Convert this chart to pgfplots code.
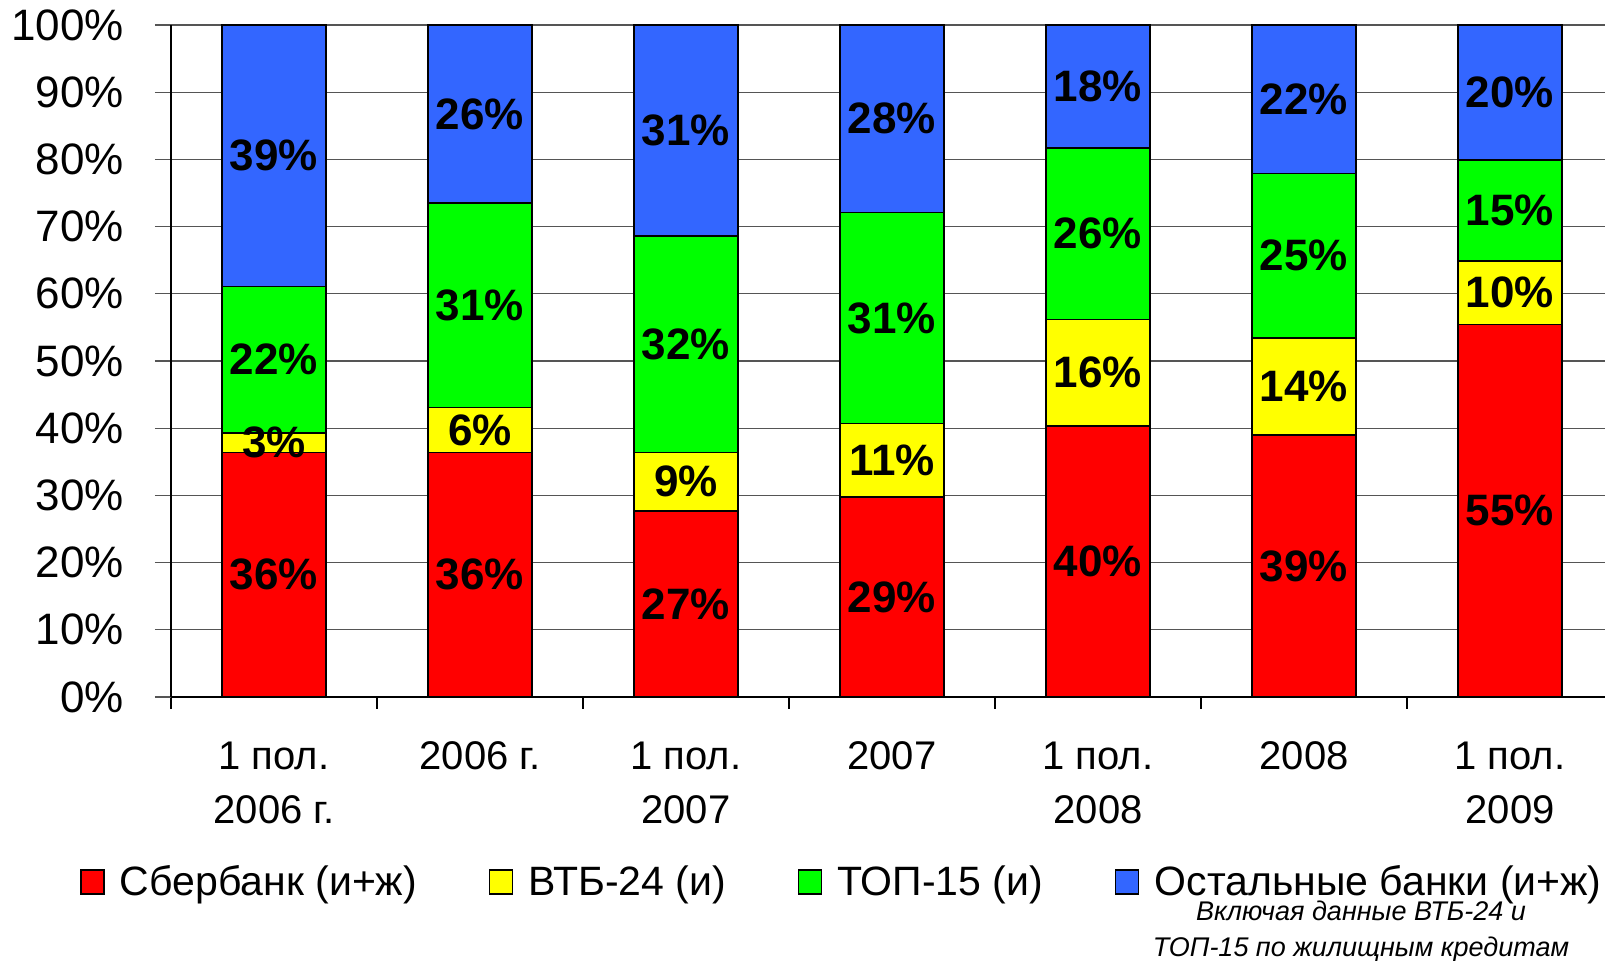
\documentclass[border=0pt]{standalone}
\usepackage{pgfplots}
\usepackage{pgfplotstable}
\pgfplotsset{compat=1.18}
\usepackage{fontspec}
\setmainfont{Liberation Sans}
\definecolor{cRed}{HTML}{FF0000}
\definecolor{cYel}{HTML}{FFFF00}
\definecolor{cGrn}{HTML}{00FF00}
\definecolor{cBlu}{HTML}{3366FF}
\definecolor{gridc}{HTML}{555555}
\pgfplotstableread{
x red yellow green blue
0 36.4 2.9 21.8 38.9
1 36.4 6.7 30.4 26.5
2 27.7 8.7 32.2 31.4
3 29.8 10.9 31.4 27.9
4 40.3 15.9 25.5 18.3
5 39.0 14.4 24.5 22.1
6 55.4 9.5 15.0 20.1
}\shares
\pgfplotstableread{
x y label
0 18.2 36\%
0 37.85 3\%
0 50.2 22\%
0 80.55 39\%
1 18.2 36\%
1 39.75 6\%
1 58.3 31\%
1 86.75 26\%
2 13.85 27\%
2 32.05 9\%
2 52.5 32\%
2 84.3 31\%
3 14.9 29\%
3 35.25 11\%
3 56.4 31\%
3 86.05 28\%
4 20.15 40\%
4 48.25 16\%
4 68.95 26\%
4 90.85 18\%
5 19.5 39\%
5 46.2 14\%
5 65.65 25\%
5 88.95 22\%
6 27.7 55\%
6 60.15 10\%
6 72.4 15\%
6 89.95 20\%
}\labels
\pgfplotsset{
  legsq/.style={legend image code/.code={\path[draw=none,fill=none] (0pt,0pt) -- (17.5pt,0pt);\draw[##1,draw=black,line width=0.6pt] (0pt,-6pt) rectangle (11.5pt,6pt);}},
}
\begin{document}
\begin{tikzpicture}
\path[use as bounding box] (0,0) rectangle (802.5pt,480.5pt);
\clip (0,0) rectangle (802.5pt,480.5pt);
\begin{axis}[
  at={(85.5pt,132pt)}, anchor=south west,
  scale only axis, width=721pt, height=336pt,
  ybar stacked, bar width=52pt,
  xmin=-0.5, xmax=6.5, ymin=0, ymax=100,
  axis x line*=bottom, axis y line*=left,
  axis line style={black, line width=0.7pt},
  ymajorgrids, grid style={gridc, line width=0.6pt},
  ytick={0,10,...,100},
  yticklabels={0\%,10\%,20\%,30\%,40\%,50\%,60\%,70\%,80\%,90\%,100\%},
  yticklabel style={font=\fontsize{22}{26}\selectfont, xshift=-12pt},
  xtick={0,...,6},
  xticklabels={{1 пол.\\2006 г.},{2006 г.},{1 пол.\\2007},{2007},{1 пол.\\2008},{2008},{1 пол.\\2009}},
  xticklabel style={align=center, font=\fontsize{20}{27}\selectfont, yshift=-11pt},
  minor xtick={-0.5,0.5,...,6.5},
  tick align=outside,
  major tick length=8pt, minor tick length=6pt,
  major x tick style={draw=none},
  minor x tick style={black, line width=0.6pt},
  major y tick style={gridc, line width=0.6pt},
  clip=false,
  legend columns=4,
  legend style={at={(-0.0673,-0.2753)}, anchor=west, draw=none, fill=none,
    font=\fontsize{20.5}{24}\selectfont,
    /tikz/every even column/.append style={column sep=34pt}},
  legend cell align=left,
]
\addplot[fill=cRed, draw=black, line width=0.8pt, legsq] table[x=x,y=red]{\shares};
\addlegendentry{Сбербанк (и+ж)}
\addplot[fill=cYel, draw=black, line width=0.8pt, legsq] table[x=x,y=yellow]{\shares};
\addlegendentry{ВТБ-24 (и)}
\addplot[fill=cGrn, draw=black, line width=0.8pt, legsq] table[x=x,y=green]{\shares};
\addlegendentry{ТОП-15 (и)}
\addplot[fill=cBlu, draw=black, line width=0.8pt, legsq] table[x=x,y=blue]{\shares};
\addlegendentry{Остальные банки (и+ж)}
\end{axis}
\begin{axis}[
  at={(85.5pt,132pt)}, anchor=south west,
  scale only axis, width=721pt, height=336pt,
  xmin=-0.5, xmax=6.5, ymin=0, ymax=100,
  hide axis, clip=false,
]
\addplot[only marks, mark=none, nodes near coords, point meta=explicit symbolic,
  nodes near coords align={center},
  every node near coord/.append style={font=\bfseries\fontsize{22}{26}\selectfont, inner sep=0pt}]
  table[x=x,y=y,meta=label]{\labels};
\end{axis}
\node[align=center, font=\itshape\fontsize{13.5}{18}\selectfont] at (680.5pt,14.5pt) {Включая данные ВТБ-24 и\\ТОП-15 по жилищным кредитам};
\end{tikzpicture}
\end{document}
